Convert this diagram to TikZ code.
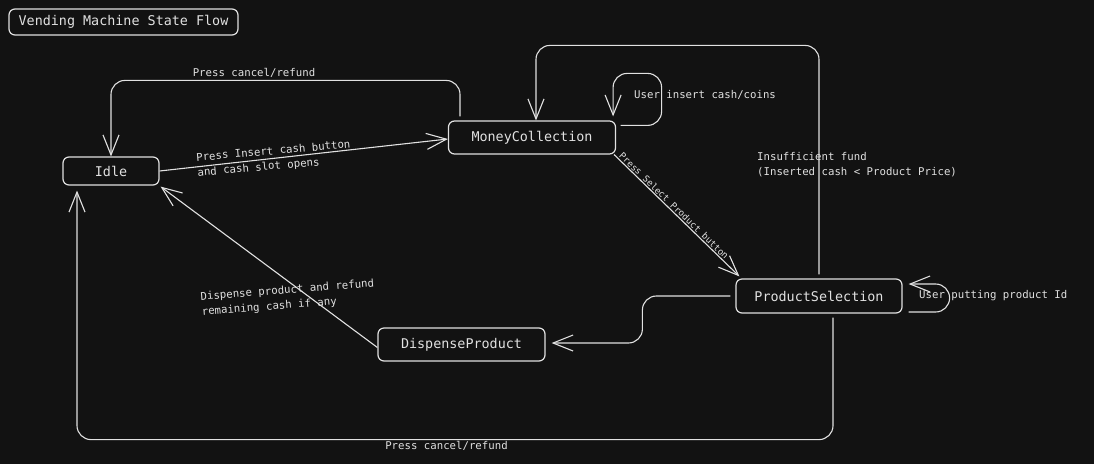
\documentclass[tikz,border=0pt]{standalone}
\usepackage{fontspec}
\setmonofont{DejaVu Sans Mono}
\usetikzlibrary{arrows.meta}
\definecolor{bg}{RGB}{18,18,18}
\definecolor{fg}{RGB}{225,225,225}
\begin{document}
\begin{tikzpicture}[x=1pt,y=-1pt,
  state/.style={draw=fg, line width=1.2pt, rounded corners=6pt, text=fg, font=\ttfamily\fontsize{13.4}{16}\selectfont, inner sep=0pt},
  lbl/.style={text=fg, font=\ttfamily\fontsize{10.7}{15}\selectfont, inner sep=0pt},
  smalllbl/.style={text=fg, font=\ttfamily\fontsize{9.1}{11}\selectfont, inner sep=1pt},
  arr/.style={draw=fg, line width=1.1pt, -{Straight Barb[length=20pt,width=16pt]}},
  link/.style={arr, rounded corners=14pt}]
\fill[bg] (0,0) rectangle (1094,464);
\useasboundingbox (0,0) rectangle (1094,464);

% states
\node[state, minimum width=229pt, minimum height=26pt] (title) at (123.5,22) {Vending Machine State Flow};
\node[state, minimum width=96pt, minimum height=28pt] (idle) at (111,171) {Idle};
\node[state, minimum width=167pt, minimum height=33pt] (mc) at (532,137.5) {MoneyCollection};
\node[state, minimum width=166pt, minimum height=34pt] (ps) at (819,296) {ProductSelection};
\node[state, minimum width=167pt, minimum height=33pt] (dp) at (461.5,344.5) {DispenseProduct};

% connectors
\draw[arr] (idle.east) -- ([yshift=-1.5pt]mc.west);
\draw[link] ([xshift=-72pt,yshift=4pt]mc.north) -- ++(0,-36) -| (idle.north);
\draw[link] ([xshift=4.5pt,yshift=-5pt]mc.north east) -- ++(41,0) -- ++(0,-52) -| ([xshift=-3pt,yshift=4pt]mc.north east);
\draw[arr] ([xshift=-2pt]mc.south east) -- node[pos=0.45, sloped, above, smalllbl] (l8) {Press Select Product button} ([xshift=4pt,yshift=2pt]ps.north west);
\draw[link] ([yshift=4pt]ps.north) -- ++(0,-229) -| ([xshift=4pt]mc.north);
\draw[link] ([xshift=6pt,yshift=-16pt]ps.east) -- ++(41,0) -- ++(0,-28) -- ([xshift=6pt,yshift=12pt]ps.east);
\draw[link] ([xshift=-5pt]ps.west) -- ++(-88,0) |- ([xshift=6pt,yshift=1.5pt]dp.east);
\draw[arr] ([yshift=-3pt]dp.west) -- ([xshift=1pt,yshift=-1pt]idle.south east);
\draw[link] ([xshift=14pt,yshift=-4pt]ps.south) -- ++(0,122) -| ([xshift=-34pt,yshift=-5pt]idle.south);

% labels
\node[lbl] (l1) at (254,73) {Press cancel/refund};
\node[lbl, anchor=west] (l2) at (634,95) {User insert cash/coins};
\node[lbl, align=left, rotate=5] (l3) at (274,159) {Press Insert cash button\\and cash slot opens};
\node[lbl, anchor=west, align=left] (l4) at (757,164.5) {Insufficient fund\\(Inserted cash < Product Price)};
\node[lbl, anchor=west] (l5) at (919,296) {User putting product Id};
\node[lbl, align=left, rotate=4.5] (l6) at (288,298) {Dispense product and refund\\remaining cash if any};
\node[lbl] (l7) at (446.5,446) {Press cancel/refund};
\end{tikzpicture}
\end{document}
